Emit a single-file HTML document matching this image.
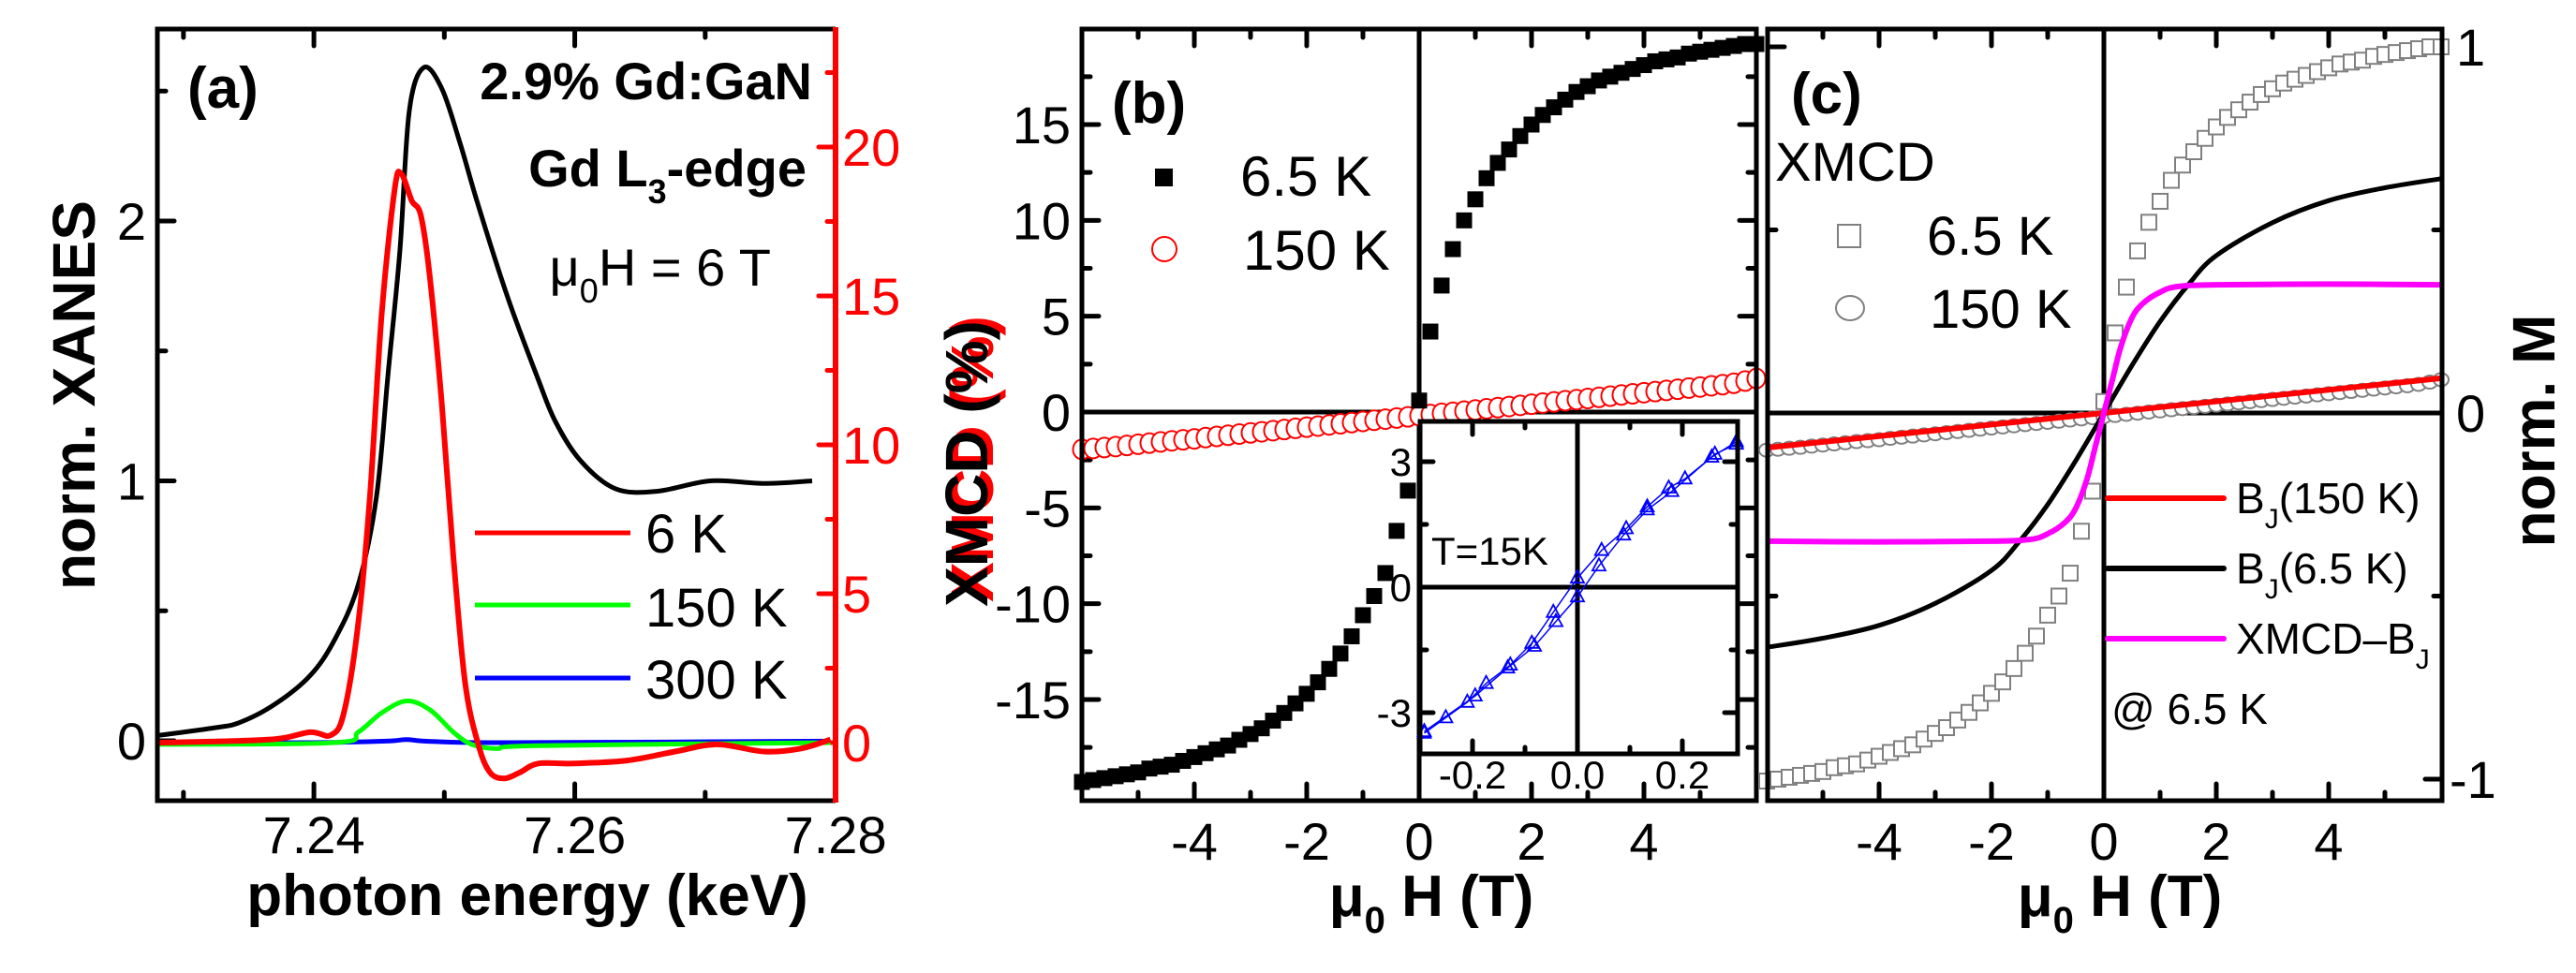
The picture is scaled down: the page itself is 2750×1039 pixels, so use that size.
<!DOCTYPE html>
<html><head><meta charset="utf-8">
<style>
html,body{margin:0;padding:0;background:#fff;}
svg{display:block;font-family:"Liberation Sans",Arial,sans-serif;}
</style></head>
<body>
<svg id="fig" width="2750" height="1039" viewBox="0 0 2750 1039" xmlns="http://www.w3.org/2000/svg">
<rect x="0" y="0" width="2750" height="1039" fill="#fff"/>
<g id="layer"></g>
</svg>
<script>
// ---------- Panel (a) data ----------
const xanesE = [7.228,7.2324,7.2343,7.237,7.2397,7.2416,7.2434,7.2448,7.2457,7.2466,7.2473,7.2484,7.2498,7.2512,7.2526,7.2549,7.2572,7.2585,7.2604,7.2631,7.2663,7.2704,7.2745,7.2782];
const xanesVal = [0.02,0.05,0.07,0.14,0.25,0.39,0.6,0.94,1.42,1.89,2.42,2.59,2.51,2.30,2.06,1.70,1.39,1.23,1.08,0.97,0.96,1.0,0.99,1.0];
const xmcd6E = [7.228,7.2365,7.2397,7.2413,7.2423,7.2434,7.2443,7.2452,7.2462,7.2467,7.2475,7.2482,7.2489,7.2498,7.2507,7.2516,7.2526,7.2535,7.2546,7.2558,7.2572,7.2599,7.264,7.2677,7.2709,7.2745,7.2773,7.2796];
const xmcd6Val = [0,0.1,0.35,0.25,1.0,4.0,8.3,14.4,18.6,19.1,18.2,17.7,15.6,11.4,6.2,2.0,-0.06,-1.0,-1.2,-1.0,-0.7,-0.7,-0.6,-0.3,-0.06,-0.3,-0.2,0.1];
const xmcd150E = [7.228,7.2416,7.2434,7.2452,7.2471,7.2489,7.2507,7.2521,7.254,7.2572,7.2796];
const xmcd150Val = [-0.06,0,0.35,1.0,1.4,1.1,0.35,-0.06,-0.2,-0.1,0];
const xmcd300E = [7.228,7.24,7.2455,7.2471,7.249,7.255,7.2796];
const xmcd300Val = [0,0,0.05,0.1,0.04,0,0.05];

// ---------- Panel (b) data ----------
const fieldB = [-6,-5.8,-5.6,-5.4,-5.2,-5,-4.8,-4.6,-4.4,-4.2,-4,-3.8,-3.6,-3.4,-3.2,-3,-2.8,-2.6,-2.4,-2.2,-2,-1.8,-1.6,-1.4,-1.2,-1,-0.8,-0.6,-0.4,-0.2,0,0.2,0.4,0.6,0.8,1,1.2,1.4,1.6,1.8,2,2.2,2.4,2.6,2.8,3,3.2,3.4,3.6,3.8,4,4.2,4.4,4.6,4.8,5,5.2,5.4,5.6,5.8,6];
const xmcd65 = [-19.3,-19.2,-19.1,-19.0,-18.9,-18.8,-18.6,-18.5,-18.4,-18.2,-18.0,-17.8,-17.6,-17.4,-17.1,-16.8,-16.5,-16.1,-15.7,-15.2,-14.7,-14.1,-13.4,-12.6,-11.7,-10.6,-9.6,-8.4,-6.2,-4.1,0.6,4.2,6.6,8.5,10.0,11.1,12.2,13.0,13.7,14.4,15.0,15.5,15.9,16.3,16.7,17.0,17.3,17.5,17.7,17.9,18.1,18.3,18.4,18.5,18.7,18.8,18.9,19.0,19.1,19.2,19.2];
const xmcd150K = [-1.95,-1.9,-1.85,-1.8,-1.74,-1.68,-1.62,-1.56,-1.5,-1.45,-1.4,-1.33,-1.27,-1.21,-1.15,-1.09,-1.03,-0.97,-0.91,-0.85,-0.79,-0.73,-0.67,-0.61,-0.55,-0.49,-0.43,-0.37,-0.31,-0.25,-0.19,-0.13,-0.07,-0.01,0.05,0.11,0.17,0.23,0.29,0.35,0.41,0.47,0.53,0.59,0.65,0.71,0.77,0.83,0.89,0.95,1.01,1.07,1.13,1.19,1.25,1.31,1.37,1.43,1.5,1.62,1.75];
const insetH1 = [-0.292,-0.251,-0.21,-0.174,-0.128,-0.087,-0.046,0.0,0.046,0.093,0.133,0.174,0.205,0.256,0.303];
const insetM1 = [-3.49,-3.12,-2.75,-2.30,-1.86,-1.34,-0.60,0.22,0.88,1.40,1.92,2.37,2.59,3.11,3.48];
const insetH2 = [-0.292,-0.195,-0.133,-0.082,-0.041,0.0,0.041,0.088,0.133,0.18,0.262,0.303];
const insetM2 = [-3.45,-2.60,-1.93,-1.41,-0.82,-0.23,0.51,1.25,1.85,2.29,3.18,3.42];

// ---------- Panel (c) data ----------
const normFactor = [19.2];
const bj150H = [-6,6];
const bj150M = [-0.095,0.095];
const bj65H = [-6,-5,-4,-3,-2,-1.5,-1,-0.5,0,0.5,1,1.5,2,3,4,5,6];
const bj65M = [-0.64,-0.615,-0.58,-0.52,-0.43,-0.35,-0.25,-0.13,0,0.13,0.25,0.35,0.43,0.52,0.58,0.615,0.64];
const diffH = [-6,-4,-2,-1.3,-1.0,-0.7,-0.5,-0.3,-0.15,0,0.15,0.3,0.5,0.7,1.0,1.3,2,4,6];
const diffM = [-0.35,-0.352,-0.35,-0.345,-0.33,-0.30,-0.26,-0.18,-0.09,0,0.09,0.18,0.26,0.30,0.33,0.345,0.35,0.352,0.35];

const NS='http://www.w3.org/2000/svg';
const layer=document.getElementById('layer');
function mk(tag,attrs,parent){const e=document.createElementNS(NS,tag);for(const k in attrs)e.setAttribute(k,attrs[k]);(parent||layer).appendChild(e);return e;}
function lin(d0,d1,r0,r1){return v=>r0+(v-d0)*(r1-r0)/(d1-d0);}
function txt(x,y,s,opts,name){const t=mk('text',Object.assign({x:x,y:y},opts||{}));t.textContent=s;


return t;}
function pathFrom(xs,ys,sx,sy){return xs.map((v,i)=>(i?'L':'M')+sx(v).toFixed(1)+','+sy(ys[i]).toFixed(1)).join('');}
function smoothFrom(xs,ys,sx,sy){
  const P=xs.map((v,i)=>[sx(v),sy(ys[i])]);
  if(P.length<3)return pathFrom(xs,ys,sx,sy);
  let d='M'+P[0][0].toFixed(1)+','+P[0][1].toFixed(1);
  for(let i=0;i<P.length-1;i++){
    const p0=P[i-1]||P[i],p1=P[i],p2=P[i+1],p3=P[i+2]||P[i+1];
    const c1=[p1[0]+(p2[0]-p0[0])/6,p1[1]+(p2[1]-p0[1])/6];
    const c2=[p2[0]-(p3[0]-p1[0])/6,p2[1]-(p3[1]-p1[1])/6];
    d+='C'+c1[0].toFixed(1)+','+c1[1].toFixed(1)+' '+c2[0].toFixed(1)+','+c2[1].toFixed(1)+' '+p2[0].toFixed(1)+','+p2[1].toFixed(1);
  }
  return d;
}

function frame(x0,y0,x1,y1,name,sw){const r=mk('rect',{x:x0,y:y0,width:x1-x0,height:y1-y0,fill:'none',stroke:'#000','stroke-width':sw||5});

}
function xticks(g,sx,ticks,y0,y1,len,col){ticks.forEach(v=>{const X=sx(v);mk('line',{x1:X,y1:y1,x2:X,y2:y1-len,stroke:col||'#000','stroke-width':5,'stroke-linecap':'round'},g);mk('line',{x1:X,y1:y0,x2:X,y2:y0+len,stroke:col||'#000','stroke-width':5,'stroke-linecap':'round'},g);});}
function yticks(g,sy,ticks,x,len,dir,col){ticks.forEach(v=>{const Y=sy(v);mk('line',{x1:x,y1:Y,x2:x+dir*len,y2:Y,stroke:col||'#000','stroke-width':5,'stroke-linecap':'round'},g);});}

// ================= PANEL A =================
(function(){
const x0=168,x1=892,y0=31,y1=855;
const sx=lin(7.228,7.28,168,892.1);
const sy=lin(0,2,791,236);
const syR=lin(0,20,793,157);
const g=mk('g',{});
const tg=mk('g',{},g);
xticks(tg,sx,[7.23,7.25,7.27],y0,y1,9);
xticks(tg,sx,[7.24,7.26],y0,y1,18);
yticks(tg,sy,[0,1,2],x0,18,1);
yticks(tg,sy,[0.5,1.5,2.5],x0,9,1);
yticks(tg,syR,[0,5,10,15,20],x1,18,-1,'#f00');
yticks(tg,syR,[2.5,7.5,12.5,17.5,22.5],x1,9,-1,'#f00');
const cl=mk('g',{fill:'none','stroke-linejoin':'round'},g);
let p;
p=mk('path',{d:smoothFrom(xmcd300E,xmcd300Val,sx,syR),stroke:'#0000ff','stroke-width':5},cl);
p=mk('path',{d:smoothFrom(xmcd150E,xmcd150Val,sx,syR),stroke:'#00ff00','stroke-width':5},cl);
p=mk('path',{d:smoothFrom(xanesE,xanesVal,sx,sy),stroke:'#000','stroke-width':5},cl);
p=mk('path',{d:smoothFrom(xmcd6E,xmcd6Val,sx,syR),stroke:'#ff0000','stroke-width':6},cl);
mk('polyline',{points:`${x1},${y0} ${x0},${y0} ${x0},${y1} ${x1},${y1}`,fill:'none',stroke:'#000','stroke-width':5});
const ra=mk('line',{x1:x1,y1:y0-2,x2:x1,y2:y1+2,stroke:'#f00','stroke-width':6});
[[7.24,'7.24'],[7.26,'7.26'],[7.28,'7.28']].forEach(t=>txt(sx(t[0]),911,t[1],{'font-size':56,'text-anchor':'middle'},'x-tick-label-a'));
[[0,'0'],[1,'1'],[2,'2']].forEach(t=>txt(156,sy(t[0])+20,t[1],{'font-size':56,'text-anchor':'end'},'y-tick-label-a'));
[[0,'0'],[5,'5'],[10,'10'],[15,'15'],[20,'20']].forEach(t=>txt(899,syR(t[0])+20,t[1],{'font-size':56,fill:'#f00'},'y-right-tick-label-a'));
txt(563,977,'photon energy (keV)',{'font-size':62,'font-weight':'bold','text-anchor':'middle'},'x-axis-title-a');
txt(0,0,'norm. XANES',{'font-size':64,'font-weight':'bold','text-anchor':'middle',transform:'translate(101,422) rotate(-90)'},'y-axis-title-a');
txt(200,115,'(a)',{'font-size':62,'font-weight':'bold'},'panel-label-a');
txt(867,106,'2.9% Gd:GaN',{'font-size':56,'font-weight':'bold','text-anchor':'end'},'sample-label');
const t2=txt(861,199,'',{'font-size':56,'font-weight':'bold','text-anchor':'end'},'edge-label');
const ts=mk('tspan',{},t2);ts.textContent='Gd L';
const ts2=mk('tspan',{'font-size':36,dy:18},t2);ts2.textContent='3';
const ts3=mk('tspan',{dy:-18},t2);ts3.textContent='-edge';
const t3=txt(823,305,'',{'font-size':56,'text-anchor':'end'},'field-label');
const a1=mk('tspan',{},t3);a1.textContent='μ';
const a2=mk('tspan',{'font-size':36,dy:18},t3);a2.textContent='0';
const a3=mk('tspan',{dy:-18},t3);a3.textContent='H = 6 T';
const leg=[['#ff0000','6 K',569,590],['#00ff00','150 K',646,669],['#0000ff','300 K',724,746]];
leg.forEach(l=>{const ln=mk('line',{x1:507,y1:l[2],x2:673,y2:l[2],stroke:l[0],'stroke-width':5});


txt(689,l[3],l[1],{'font-size':58},'legend-entry-a');});
})();

// ================= PANEL B =================
(function(){
const x0=1155,x1=1875,y0=31,y1=855;
const sx=lin(-6,6,1155,1875);
const sy=lin(0,15,440,133);
const g=mk('g',{});
const tg=mk('g',{},g);
xticks(tg,sx,[-5,-3,-1,1,3,5],y0,y1,9);
xticks(tg,sx,[-4,-2,2,4],y0,y1,18);
yticks(tg,sy,[-15,-10,-5,5,10,15],x0,18,1);yticks(tg,sy,[-15,-10,-5,5,10,15],x1,18,-1);
yticks(tg,sy,[-17.5,-12.5,-7.5,-2.5,2.5,7.5,12.5,17.5],x0,9,1);yticks(tg,sy,[-17.5,-12.5,-7.5,-2.5,2.5,7.5,12.5,17.5],x1,9,-1);
mk('line',{x1:x0,y1:sy(0),x2:x1,y2:sy(0),stroke:'#000','stroke-width':5},g);
mk('line',{x1:sx(0),y1:y0,x2:sx(0),y2:y1,stroke:'#000','stroke-width':5},g);
const cg=mk('g',{},g);
fieldB.forEach((h,i)=>{const c=mk('ellipse',{cx:sx(h),cy:sy(xmcd150K[i]),rx:9.5,ry:10.5,fill:'#fff',stroke:'#f00','stroke-width':2},cg);

});
const sg=mk('g',{},g);
fieldB.forEach((h,i)=>{const r=mk('rect',{x:sx(h)-8.5,y:sy(xmcd65[i])-8.5,width:17,height:17,fill:'#000'},sg);

});
const ix0=1516,ix1=1855,iy0=450,iy1=805;
const isx=lin(-0.3,0.3,1516,1852);
const isy=lin(0,3,627,493);
mk('rect',{x:ix0,y:iy0,width:ix1-ix0,height:iy1-iy0,fill:'#fff',stroke:'none'},g);
const ig=mk('g',{},g);
xticks(ig,isx,[-0.2,0,0.2],iy0,iy1,14);xticks(ig,isx,[-0.1,0.1],iy0,iy1,7);
yticks(ig,isy,[-3,3],ix0,14,1);yticks(ig,isy,[-3,3],ix1,14,-1);
yticks(ig,isy,[-1.5,1.5],ix0,7,1);yticks(ig,isy,[-1.5,1.5],ix1,7,-1);
mk('line',{x1:ix0,y1:isy(0),x2:ix1,y2:isy(0),stroke:'#000','stroke-width':5},ig);
mk('line',{x1:isx(0),y1:iy0,x2:isx(0),y2:iy1,stroke:'#000','stroke-width':5},ig);
[[insetH1,insetM1],[insetH2,insetM2]].forEach(s=>{
mk('path',{d:pathFrom(s[0],s[1],isx,isy),fill:'none',stroke:'#00f','stroke-width':1.5},ig);
s[0].forEach((h,i)=>{const X=isx(h),Y=isy(s[1][i]);const t=mk('polygon',{points:`${X},${Y-8} ${X-7},${Y+5} ${X+7},${Y+5}`,fill:'none',stroke:'#00f','stroke-width':1.8},ig);

});});
const ifr=mk('rect',{x:ix0,y:iy0,width:ix1-ix0,height:iy1-iy0,fill:'none',stroke:'#000','stroke-width':5},ig);

[[-0.2,'-0.2'],[0,'0.0'],[0.2,'0.2']].forEach(t=>txt(isx(t[0]),842,t[1],{'font-size':42,'text-anchor':'middle'},'inset-x-tick-label'));
[[-3,'-3'],[0,'0'],[3,'3']].forEach(t=>txt(1507,isy(t[0])+15,t[1],{'font-size':42,'text-anchor':'end'},'inset-y-tick-label'));
txt(1528,603,'T=15K',{'font-size':42},'inset-temperature-label');
frame(x0,y0,x1,y1,'frame-b');
[[-4,'-4'],[-2,'-2'],[0,'0'],[2,'2'],[4,'4']].forEach(t=>txt(sx(t[0]),918,t[1],{'font-size':56,'text-anchor':'middle'},'x-tick-label-b'));
[[-15,'-15'],[-10,'-10'],[-5,'-5'],[0,'0'],[5,'5'],[10,'10'],[15,'15']].forEach(t=>txt(1143,sy(t[0])+20,t[1],{'font-size':56,'text-anchor':'end'},'y-tick-label-b'));
const xt=txt(1528,978,'',{'font-size':62,'font-weight':'bold','text-anchor':'middle'},'x-axis-title-b');
const b1=mk('tspan',{},xt);b1.textContent='μ';const b2=mk('tspan',{'font-size':40,dy:18},xt);b2.textContent='0';const b3=mk('tspan',{dy:-18},xt);b3.textContent=' H (T)';
txt(0,0,'XMCD (%)',{'font-size':64,'font-weight':'bold','text-anchor':'middle',fill:'#f00',transform:'translate(1060,490) rotate(-90)'},'y-axis-title-b-shadow');
txt(0,0,'XMCD (%)',{'font-size':64,'font-weight':'bold','text-anchor':'middle',transform:'translate(1054,495) rotate(-90)'},'y-axis-title-b');
txt(1187,131,'(b)',{'font-size':62,'font-weight':'bold'},'panel-label-b');
const lsq=mk('rect',{x:1233,y:180,width:19,height:19,fill:'#000'});
txt(1324,209,'6.5 K',{'font-size':60},'legend-entry-6-5k');
const lc=mk('ellipse',{cx:1243,cy:266,rx:13,ry:13,fill:'#fff',stroke:'#f00','stroke-width':2});
txt(1327,288,'150 K',{'font-size':60},'legend-entry-150k');
})();

// ================= PANEL C =================
(function(){
const x0=1887,x1=2607,y0=31,y1=855;
const sx=lin(-6,6,1886,2606);
const sy=lin(0,1,441,50);
const g=mk('g',{});
const tg=mk('g',{},g);
xticks(tg,sx,[-5,-3,-1,1,3,5],y0,y1,9);
xticks(tg,sx,[-4,-2,2,4],y0,y1,18);
yticks(tg,sy,[-1,1],x0,18,1);yticks(tg,sy,[-1,1],x1,18,-1);
yticks(tg,sy,[-0.5,0.5],x0,9,1);yticks(tg,sy,[-0.5,0.5],x1,9,-1);
mk('line',{x1:x0,y1:sy(0),x2:x1,y2:sy(0),stroke:'#000','stroke-width':5},g);
mk('line',{x1:sx(0),y1:y0,x2:sx(0),y2:y1,stroke:'#000','stroke-width':5},g);
const sg=mk('g',{},g);
fieldB.forEach((h,i)=>{const r=mk('rect',{x:sx(h)-8,y:sy(xmcd65[i]/normFactor[0])-8,width:16,height:16,fill:'#fff',stroke:'#808080','stroke-width':2},sg);

});
const cg=mk('g',{},g);
fieldB.forEach((h,i)=>{const c=mk('ellipse',{cx:sx(h),cy:sy(xmcd150K[i]/normFactor[0]),rx:8,ry:7,fill:'#fff',stroke:'#808080','stroke-width':2},cg);

});
let p;
p=mk('path',{d:smoothFrom(bj65H,bj65M,sx,sy),fill:'none',stroke:'#000','stroke-width':5},g);
p=mk('path',{d:pathFrom(bj150H,bj150M,sx,sy),fill:'none',stroke:'#f00','stroke-width':6},g);
p=mk('path',{d:smoothFrom(diffH,diffM,sx,sy),fill:'none',stroke:'#ff00ff','stroke-width':6,'stroke-linejoin':'round'},g);
frame(x0,y0,x1,y1,'frame-c');
[[-4,'-4'],[-2,'-2'],[0,'0'],[2,'2'],[4,'4']].forEach(t=>txt(sx(t[0]),918,t[1],{'font-size':56,'text-anchor':'middle'},'x-tick-label-c'));
txt(2622,sy(1)+20,'1',{'font-size':56},'y-tick-label-c');
txt(2622,sy(0)+20,'0',{'font-size':56},'y-tick-label-c');
txt(2615,sy(-1)+20,'-1',{'font-size':56},'y-tick-label-c');
const xt=txt(2263,978,'',{'font-size':62,'font-weight':'bold','text-anchor':'middle'},'x-axis-title-c');
const b1=mk('tspan',{},xt);b1.textContent='μ';const b2=mk('tspan',{'font-size':40,dy:18},xt);b2.textContent='0';const b3=mk('tspan',{dy:-18},xt);b3.textContent=' H (T)';
txt(0,0,'norm. M',{'font-size':64,'font-weight':'bold','text-anchor':'middle',transform:'translate(2727,460) rotate(-90)'},'y-axis-title-c');
txt(1912,121,'(c)',{'font-size':62,'font-weight':'bold'},'panel-label-c');
txt(1895,193,'XMCD',{'font-size':58},'legend-title-c');
const ls=mk('rect',{x:1962,y:240,width:24,height:24,fill:'#fff',stroke:'#808080','stroke-width':2});
txt(2057,272,'6.5 K',{'font-size':58},'legend-entry-norm-6-5k');
const lc=mk('ellipse',{cx:1975,cy:329,rx:15,ry:13,fill:'#fff',stroke:'#808080','stroke-width':2});
txt(2060,350,'150 K',{'font-size':58},'legend-entry-norm-150k');
const leg=[['#f00','(150 K)',532,548,''],['#000','(6.5 K)',607,623,''],['#ff00ff','',682,698,'XMCD–']];
leg.forEach(l=>{const ln=mk('line',{x1:2250,y1:l[2],x2:2374,y2:l[2],stroke:l[0],'stroke-width':6,'stroke-linecap':'round'});


const t=txt(2387,l[3],'',{'font-size':46},'legend-entry-c');
const s1=mk('tspan',{},t);s1.textContent=l[4]+'B';
const s2=mk('tspan',{'font-size':30,dy:16},t);s2.textContent='J';
const s3=mk('tspan',{dy:-16},t);s3.textContent=l[1];});
txt(2254,773,'@ 6.5 K',{'font-size':46},'legend-note-c');
})();
</script>
</body></html>
